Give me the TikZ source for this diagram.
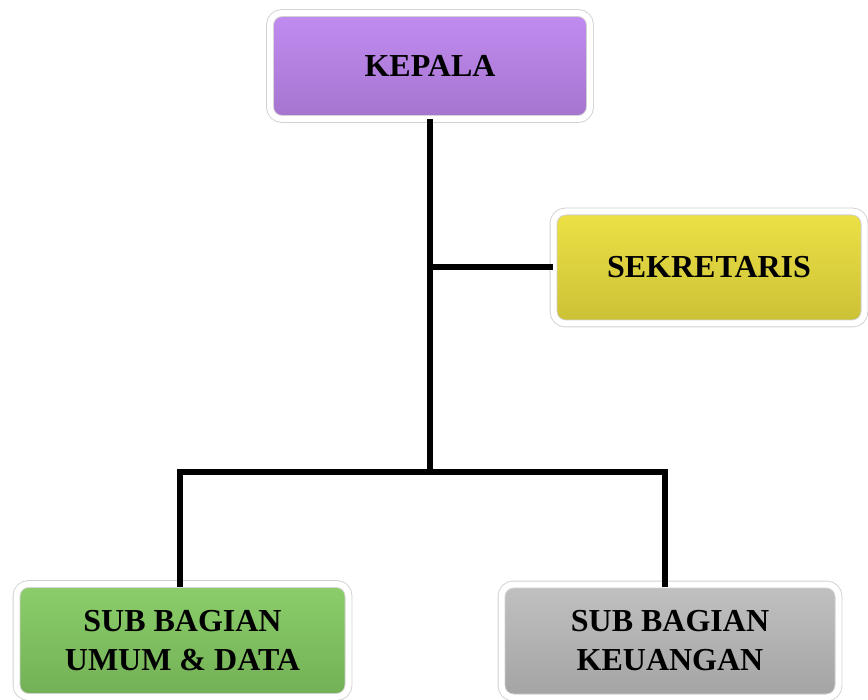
\documentclass[tikz,border=0pt]{standalone}
\usepackage{fontspec}
\setmainfont{Liberation Serif}

\definecolor{kepalaC}{RGB}{191,135,240}
\definecolor{sekretC}{RGB}{236,224,62}
\definecolor{umumC}{RGB}{134,204,100}
\definecolor{uangC}{RGB}{190,190,190}

\begin{document}
\begin{tikzpicture}[x=1pt,y=-1pt]

\tikzset{
  UnitBox/.style = { rectangle, rounded corners=12pt,
                     draw=black!18, line width=0.9pt,
                     double=white, double distance=6pt,
                     top color=#1!96!white, middle color=#1,
                     bottom color=#1!86!black,
                     align=center, inner sep=0pt,
                     font=\bfseries\fontsize{32}{39}\selectfont },
  LinkStyle/.style = { line width=6pt, line cap=rect } }

  \useasboundingbox (0,0) rectangle (868,700);

  \node[UnitBox=kepalaC, minimum width=320, minimum height=106] (kepala) at (430, 66) {KEPALA};
  \node[UnitBox=sekretC, minimum width=311, minimum height=112] (sekretaris) at (709, 267.5) {SEKRETARIS};

  \node[UnitBox=umumC, minimum width=332, minimum height=113] (umum) at (182.5, 640.5) {SUB BAGIAN\\UMUM \& DATA};
  \node[UnitBox=uangC, minimum width=337, minimum height=113] (keuangan) at (670, 641) {SUB BAGIAN\\KEUANGAN};

  \coordinate (jsek) at (kepala.south |- sekretaris.west);
  \coordinate (jbot) at (kepala.south |- 0,472);

  \draw[LinkStyle, line cap=butt] (kepala.south) -- (jbot);
  \draw[LinkStyle, line cap=butt] (jsek) -- (sekretaris.west);
  \draw[LinkStyle] (jbot) -| ([xshift=-3]umum.north);
  \draw[LinkStyle] (jbot) -| ([xshift=-5]keuangan.north);

\end{tikzpicture}
\end{document}
